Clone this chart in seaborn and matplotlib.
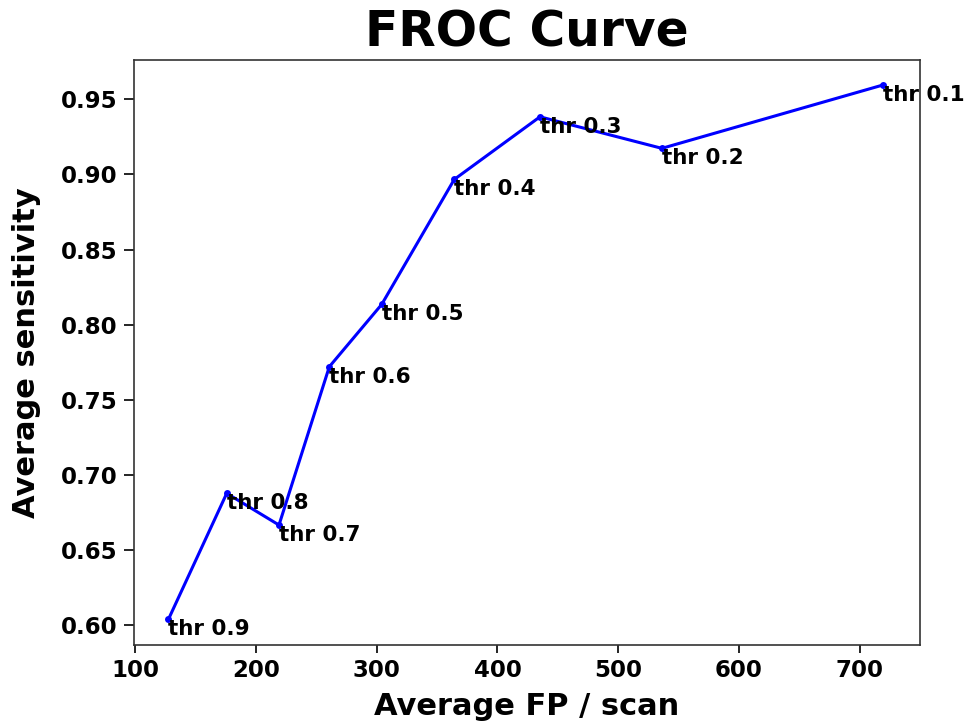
import matplotlib
matplotlib.use("Agg")
import matplotlib.pyplot as plt
import seaborn as sns
import pandas as pd

fp_per_scan = [127.4, 175.7, 219.0, 260.7, 304.1, 364.2, 435.2, 536.2, 719.0]
sensitivity = [0.6038, 0.6877, 0.6666, 0.772, 0.8135, 0.8967, 0.9384, 0.9174, 0.9595]
thresholds = ["thr 0.9", "thr 0.8", "thr 0.7", "thr 0.6", "thr 0.5",
              "thr 0.4", "thr 0.3", "thr 0.2", "thr 0.1"]

df = pd.DataFrame({"fp": fp_per_scan, "sens": sensitivity, "thr": thresholds})

plt.rcParams['font.family'] = ['DejaVu Sans']
fig = plt.figure(figsize=(9.69, 7.25), dpi=100)
ax = fig.add_axes([0.1383, 0.1103, 0.8111, 0.8069])

sns.lineplot(data=df, x="fp", y="sens", sort=False, estimator=None,
             color="blue", linewidth=2.2, marker="o", markersize=5,
             markeredgewidth=0, ax=ax)

for xv, yv, lab in zip(df["fp"], df["sens"], df["thr"]):
    ax.text(xv, yv, lab, ha="left", va="top", fontsize=15.5,
            fontweight="bold", color="black", clip_on=False)

ax.set_title("FROC Curve", fontsize=35, fontweight="bold", pad=10)
ax.set_xlabel("Average FP / scan", fontsize=22, fontweight="bold", labelpad=7)
ax.set_ylabel("Average sensitivity", fontsize=22, fontweight="bold", labelpad=14)
ax.set_xticks([100, 200, 300, 400, 500, 600, 700])
ax.set_yticks([0.60, 0.65, 0.70, 0.75, 0.80, 0.85, 0.90, 0.95])
ax.set_xlim(98.9, 750)
ax.set_ylim(0.5867, 0.9762)
for lab in ax.get_xticklabels() + ax.get_yticklabels():
    lab.set_fontweight("bold")
    lab.set_fontsize(16.5)
ax.tick_params(axis="y", length=7, width=1.2, pad=5)
ax.tick_params(axis="x", length=6, width=1.2, pad=4)
for s in ax.spines.values():
    s.set_linewidth(1.2)
    s.set_color("#333333")

fig.savefig("out.png", dpi=100)
